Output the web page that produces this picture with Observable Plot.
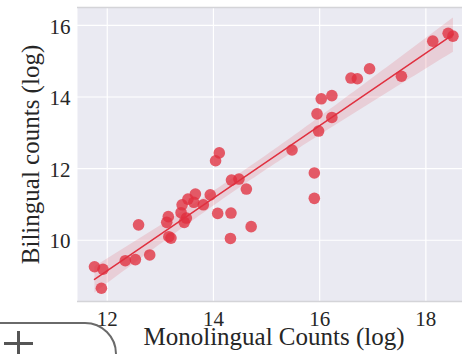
<!DOCTYPE html>
<html>
<head>
<meta charset="utf-8">
<script src="https://cdn.jsdelivr.net/npm/d3@7"></script>
<script src="https://cdn.jsdelivr.net/npm/@observablehq/plot@0.6"></script>
<style>
  html, body { margin: 0; padding: 0; background: #fff; overflow: hidden; }
  #wrap { position: relative; width: 462px; height: 354px; }
  #deco { position: absolute; left: -20px; top: 322px; width: 137px; height: 80px;
          border: 2px solid #6a6a6a; border-radius: 0 32px 0 0; box-sizing: border-box; }
  .plus-h { position: absolute; left: 4px; top: 342px; width: 29px; height: 3px; background: #555; }
  .plus-v { position: absolute; left: 17px; top: 331px; width: 3px; height: 30px; background: #555; }
</style>
</head>
<body>
<div id="wrap"></div>
<script>
const monolingual = [11.76, 11.92, 11.89, 12.34, 12.53, 12.80, 12.59, 13.15, 13.12, 13.16, 13.20,
  13.41, 13.39, 13.52, 13.66, 13.63, 13.81, 13.45, 13.49, 13.94, 14.04, 14.11, 14.08, 14.33,
  14.32, 14.71, 14.34, 14.48, 14.62, 15.48, 15.95, 16.23, 15.98, 15.90, 15.90, 16.03, 16.23,
  16.59, 16.71, 16.94, 17.54, 18.13, 18.42, 18.51];
const bilingual = [9.26, 9.19, 8.66, 9.43, 9.46, 9.59, 10.43, 10.66, 10.50, 10.10, 10.06,
  10.99, 10.77, 11.15, 11.29, 11.06, 10.99, 10.50, 10.62, 11.27, 12.22, 12.44, 10.75, 10.76,
  10.05, 10.38, 11.68, 11.71, 11.43, 12.52, 13.53, 13.43, 13.05, 11.88, 11.17, 13.95, 14.04,
  14.53, 14.51, 14.79, 14.58, 15.56, 15.78, 15.70];
const xTicks = [12, 14, 16, 18];
const yTicks = [10, 12, 14, 16];
const xDomain = [11.44, 18.69];
const yDomain = [8.29, 16.50];
const xLabel = "Monolingual Counts (log)";
const yLabel = "Bilingual counts (log)";

const data = monolingual.map((m, i) => ({m, b: bilingual[i]}));
const red = "#e0303f";
const serif = "'Liberation Serif', 'Times New Roman', serif";
const ink = "#262626";

const chart = Plot.plot({
  width: 462,
  height: 354,
  marginTop: 7,
  marginBottom: 53,
  marginLeft: 77,
  marginRight: 0,
  style: {fontFamily: serif, fontSize: "21px", color: ink, background: "transparent", overflow: "visible"},
  x: {domain: xDomain, axis: null},
  y: {domain: yDomain, axis: null},
  marks: [
    Plot.frame({fill: "#eaeaf2", stroke: null}),
    Plot.ruleX(xTicks, {stroke: "white", strokeWidth: 1.2}),
    Plot.ruleY(yTicks, {stroke: "white", strokeWidth: 1.2}),
    Plot.ruleY([yDomain[1], yDomain[0]], {stroke: "#d4d4d8", strokeWidth: 1.5}),
    Plot.dot(data, {x: "m", y: "b", r: 5.8, fill: red, fillOpacity: 0.78, stroke: "none"}),
    Plot.linearRegressionY(data, {x: "m", y: "b", stroke: red, strokeWidth: 1.5, fill: red, fillOpacity: 0.15, ci: 0.95}),
    Plot.text(xTicks, {x: d => d, frameAnchor: "bottom", textAnchor: "middle", lineAnchor: "top", dy: 9.5, fontFamily: serif, fontSize: 21, fill: ink}),
    Plot.text(yTicks, {y: d => d, frameAnchor: "left", textAnchor: "end", lineAnchor: "middle", dx: -7, dy: 1.5, fontFamily: serif, fontSize: 21, fill: ink}),
    Plot.text([xLabel], {frameAnchor: "bottom", textAnchor: "middle", lineAnchor: "middle", dx: 4, dy: 35, fontFamily: serif, fontSize: 25, fill: ink}),
    Plot.text([yLabel], {frameAnchor: "left", textAnchor: "middle", lineAnchor: "middle", rotate: -90, dx: -46.5, fontFamily: serif, fontSize: 25, fill: ink})
  ]
});
const wrap = document.getElementById("wrap");
wrap.appendChild(chart);
const deco = document.createElement("div"); deco.id = "deco"; wrap.appendChild(deco);
const ph = document.createElement("div"); ph.className = "plus-h"; wrap.appendChild(ph);
const pv = document.createElement("div"); pv.className = "plus-v"; wrap.appendChild(pv);
</script>
</body>
</html>
